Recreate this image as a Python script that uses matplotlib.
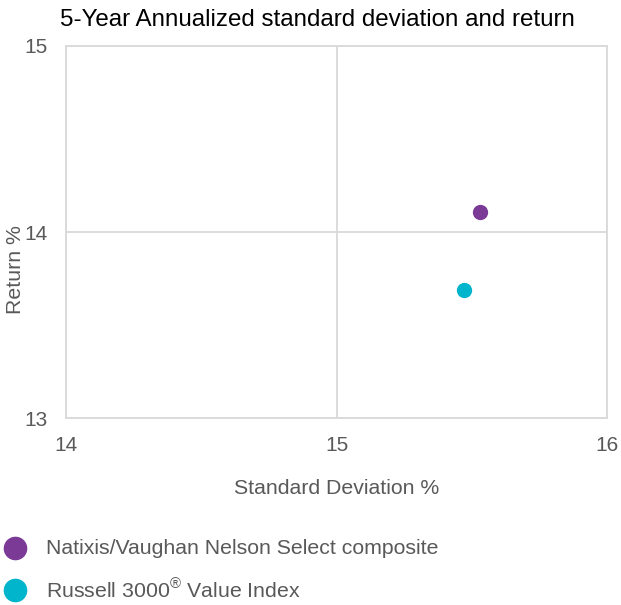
import matplotlib.pyplot as plt
import matplotlib
from matplotlib.lines import Line2D

matplotlib.rcParams['font.family'] = ['Liberation Sans', 'DejaVu Sans']
matplotlib.rcParams['mathtext.fontset'] = 'custom'
matplotlib.rcParams['mathtext.rm'] = 'Liberation Sans'

# data
names = ['Natixis/Vaughan Nelson Select composite', r'Russell 3000$^{\mathrm{®}}$ Value Index']
std_dev = [15.53, 15.47]
returns = [14.11, 13.69]
colors = ['#7B3A96', '#00B5CC']

fig = plt.figure(figsize=(6.21, 6.05), dpi=100)
ax = fig.add_axes([0.1063, 0.309, 0.8712, 0.615])

for x, y, c in zip(std_dev, returns, colors):
    ax.plot([x], [y], 'o', color=c, markersize=10, zorder=3)

ax.set_xlim(14, 16)
ax.set_ylim(13, 15)
ax.set_xticks([14, 15, 16])
ax.set_yticks([13, 14, 15])
ax.grid(True, color='#D9D9D9', linewidth=1.3)
for s in ax.spines.values():
    s.set_color('#D9D9D9')
    s.set_linewidth(1.3)
ax.tick_params(length=0, labelsize=15, labelcolor='#595959', pad=13)
ax.tick_params(axis='y', pad=13)

ax.set_xlabel('Standard Deviation %', fontsize=15.3, color='#595959', va='center')
ax.set_ylabel('Return %', fontsize=15.3, color='#595959', va='center')
ax.xaxis.set_label_coords(0.5, -0.19)
ax.yaxis.set_label_coords(-0.093, 0.40)

fig.text(0.097, 0.967, '5-Year Annualized standard deviation and return',
         fontsize=17.4, color='black', va='center', ha='left')

# legend drawn by hand
leg_y = [0.0935, 0.0248]
for n, c, ly in zip(names, colors, leg_y):
    fig.add_artist(Line2D([0.024], [ly], marker='o', color=c, markersize=16,
                          linestyle='none', transform=fig.transFigure))
    fig.text(0.074, ly, n, fontsize=15.3, color='#595959', va='center', ha='left')

plt.savefig('out.png', dpi=100)
plt.close()
